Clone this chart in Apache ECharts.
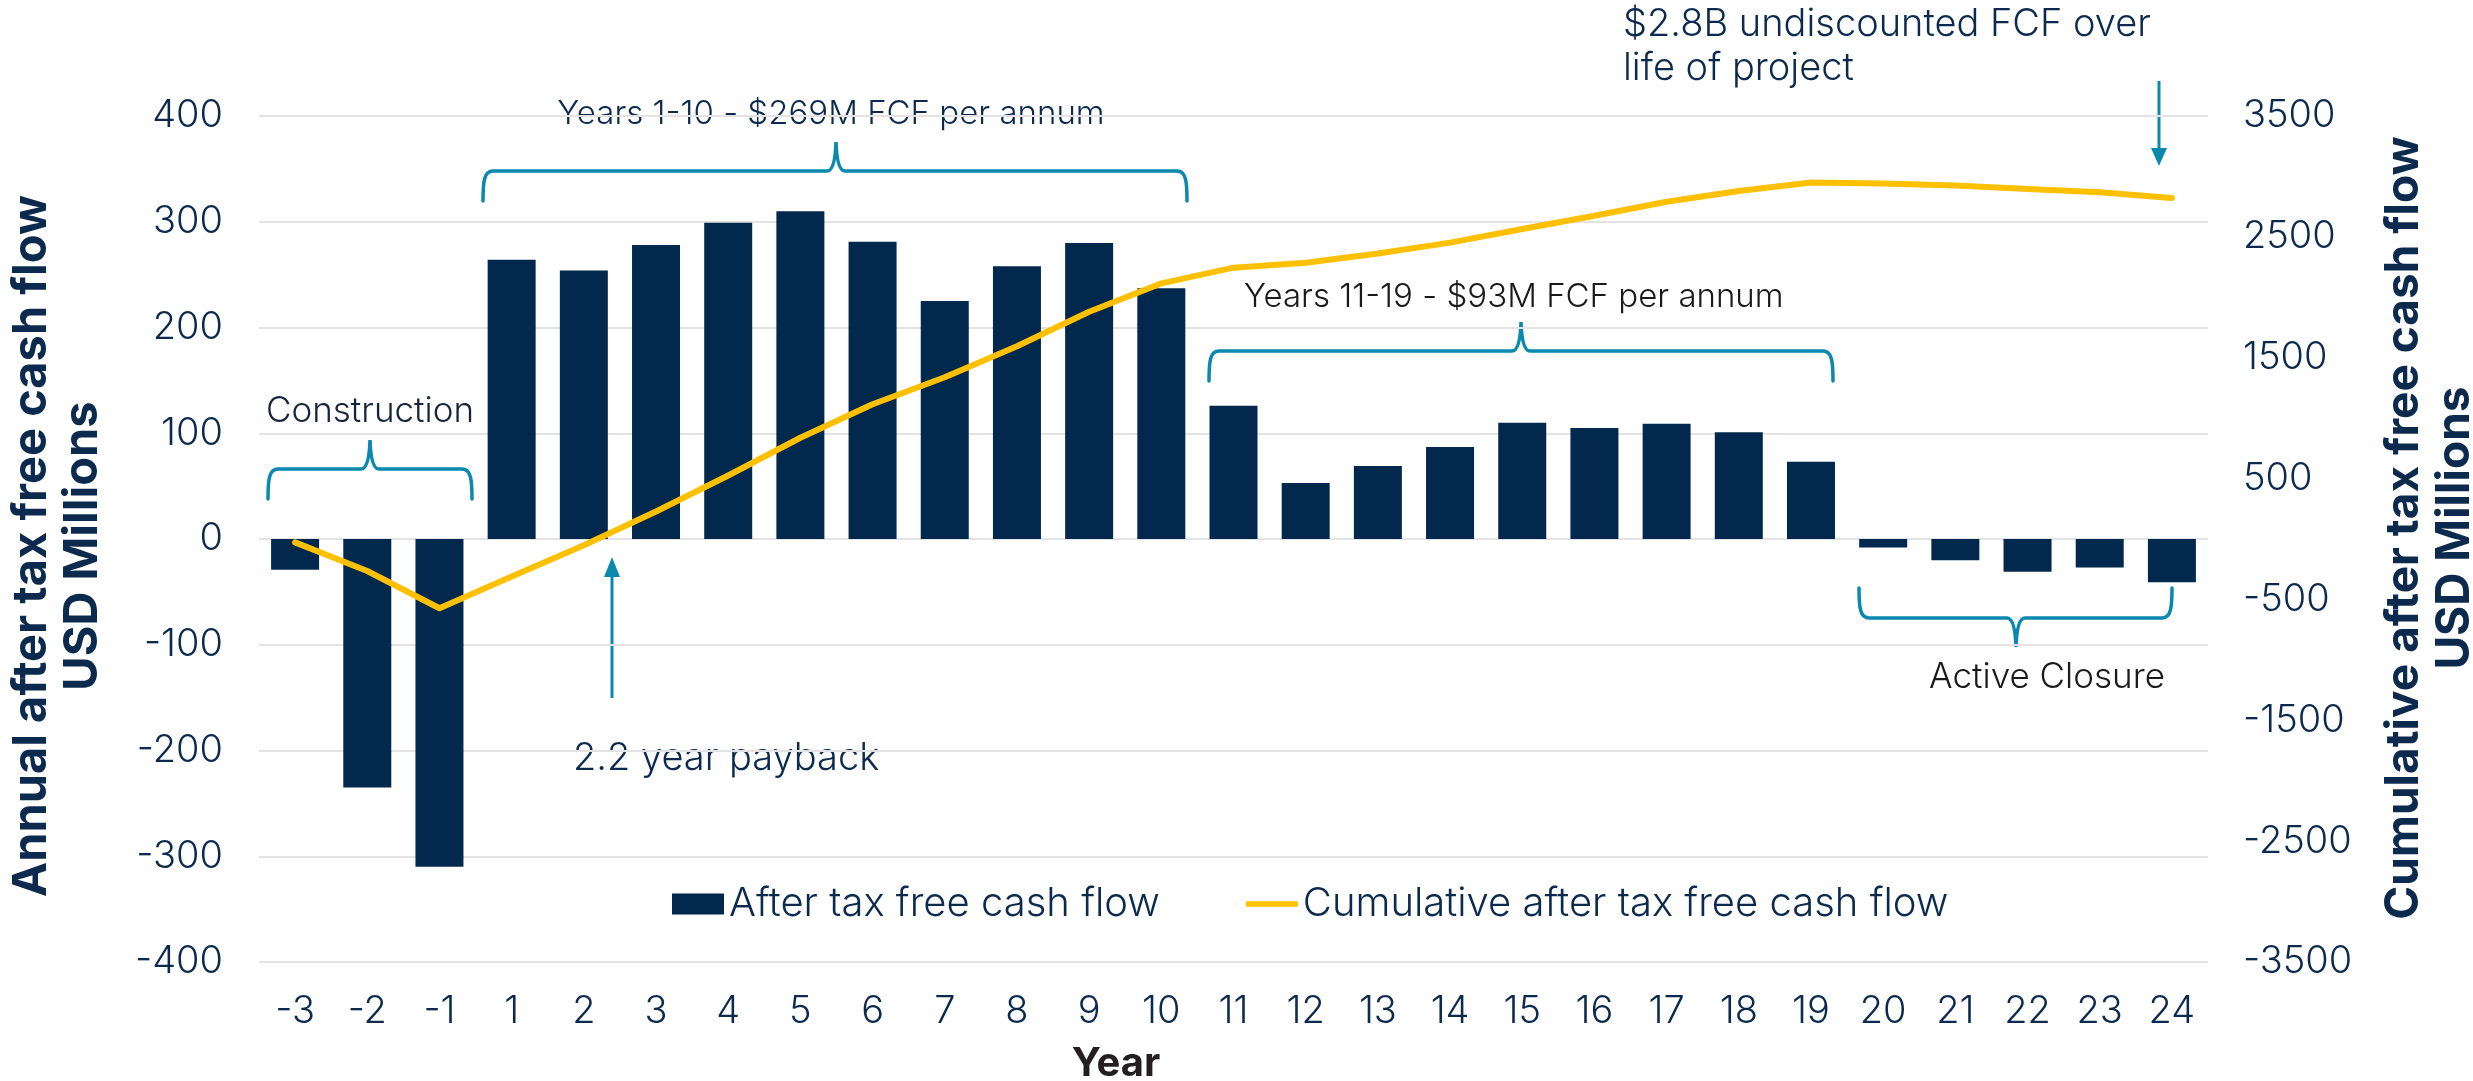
<!DOCTYPE html>
<html>
<head>
<meta charset="utf-8">
<script src="https://cdn.jsdelivr.net/npm/echarts@6/dist/echarts.min.js"></script>
<style>
  html, body { margin: 0; padding: 0; background: #fff; }
  #main { width: 2473px; height: 1081px; }
</style>
</head>
<body>
<div id="main"></div>
<script>
// chart values
var years = ['-3', '-2', '-1', '1', '2', '3', '4', '5', '6', '7', '8', '9', '10',
    '11', '12', '13', '14', '15', '16', '17', '18', '19', '20', '21', '22', '23', '24'];
var annualFCF = [-29, -235, -310, 264, 254, 278, 299, 310, 281, 225, 258, 280, 237,
    126, 53, 69, 87, 110, 105, 109, 101, 73, -8, -20, -31, -27, -41];
var cumulativeFCF = [-28, -265, -573, -310, -52, 228, 525, 838, 1115, 1338, 1595, 1880, 2115,
    2245, 2285, 2362, 2452, 2565, 2675, 2790, 2880, 2950, 2942, 2925, 2895, 2870, 2822];
var seriesNames = ['After tax free cash flow', 'Cumulative after tax free cash flow'];

var NAVY = '#03284d';
var GOLD = '#ffc000';
var TEAL = '#0a88ad';
var TEXT = '#0b2a4d';
var FONT = 'Inter, "Open Sans", sans-serif';

// curly brace shape: d = 1 -> tip up / ends down, d = -1 -> tip down / ends up
var Brace = echarts.graphic.extendShape({
    shape: {x1: 0, x2: 0, tipX: 0, y: 0, d: 1},
    buildPath: function (ctx, s) {
        var e = 30 * s.d, t = 29 * s.d, y = s.y;
        ctx.moveTo(s.x1, y + e);
        ctx.bezierCurveTo(s.x1, y + e * 0.35, s.x1 + 1, y, s.x1 + 10, y);
        ctx.lineTo(s.tipX - 9, y);
        ctx.quadraticCurveTo(s.tipX - 1, y, s.tipX, y - t);
        ctx.quadraticCurveTo(s.tipX + 1, y, s.tipX + 9, y);
        ctx.lineTo(s.x2 - 10, y);
        ctx.bezierCurveTo(s.x2 - 1, y, s.x2, y + e * 0.35, s.x2, y + e);
    }
});
echarts.graphic.registerShape('brace', Brace);

var chartDom = document.getElementById('main');
var chart = echarts.init(chartDom);

var brace = (x1, x2, tipX, y, d) => ({
    type: 'brace',
    shape: {x1: x1, x2: x2, tipX: tipX, y: y, d: d},
    style: {stroke: TEAL, lineWidth: 3.5, fill: null, lineCap: 'round'},
    silent: true
});

var arrow = (x, yTail, yTip, head) => {
    var dir = yTip > yTail ? 1 : -1;
    var base = yTip - dir * head;
    return [
        {type: 'line', shape: {x1: x, y1: yTail, x2: x, y2: base},
            style: {stroke: TEAL, lineWidth: 3}, silent: true},
        {type: 'polygon', shape: {points: [[x - 8, base], [x + 8, base], [x, yTip]]},
            style: {fill: TEAL}, silent: true}
    ];
};

var label = (text, x, y, size, align, color) => ({
    type: 'text',
    x: x, y: y,
    style: {
        text: text, fill: color || TEXT, font: '300 ' + size + 'px ' + FONT,
        textAlign: align || 'left', textVerticalAlign: 'middle'
    },
    silent: true
});

var graphics = [
    brace(268, 472, 370, 469, 1),
    brace(483, 1187, 836, 171, 1),
    brace(1209, 1833, 1521, 351, 1),
    brace(1859, 2172, 2016, 618, -1),
    label('Construction', 370, 411, 35, 'center', '#14243a'),
    label('Years 1-10 - $269M FCF per annum', 831, 114, 33, 'center'),
    label('Years 11-19 - $93M FCF per annum', 1244, 297, 33, 'left', '#1a1a1a'),
    label('2.2 year payback', 573, 759, 38, 'left'),
    label('Active Closure', 2047, 677, 35, 'center', '#1a1a1a'),
    label('$2.8B undiscounted FCF over', 1623, 25, 38, 'left'),
    label('life of project', 1623, 69, 38, 'left'),
    {
        type: 'text', x: 57, y: 546, rotation: Math.PI / 2,
        style: {text: 'Annual after tax free cash flow\nUSD Millions', font: 'bold 47px ' + FONT,
            fill: TEXT, textAlign: 'center', textVerticalAlign: 'middle', lineHeight: 51},
        silent: true
    },
    {
        type: 'text', x: 2430, y: 528, rotation: Math.PI / 2,
        style: {text: 'Cumulative after tax free cash flow\nUSD Millions', font: 'bold 46px ' + FONT,
            fill: TEXT, textAlign: 'center', textVerticalAlign: 'middle', lineHeight: 51},
        silent: true
    },
    {
        type: 'text', x: 1116, y: 1064,
        style: {text: 'Year', font: 'bold 40px ' + FONT, fill: '#231f20',
            textAlign: 'center', textVerticalAlign: 'middle'},
        silent: true
    }
].concat(arrow(612, 698, 557, 20), arrow(2159, 81, 166, 18));

var option = {
    animation: false,
    textStyle: {fontFamily: FONT},
    grid: {left: 259, right: 265, top: 116, bottom: 119},
    legend: {
        left: 672, top: 884, padding: 0,
        itemGap: 86, itemWidth: 52, itemHeight: 21,
        textStyle: {fontSize: 40, fontWeight: 300, color: TEXT, fontFamily: FONT},
        data: [
            {name: seriesNames[0], icon: 'rect'},
            {name: seriesNames[1], icon: 'path://M0,0 L55,0 L55,6 L0,6 Z'}
        ]
    },
    xAxis: {
        type: 'category',
        data: years,
        axisLine: {show: false, onZero: false},
        axisTick: {show: false},
        axisLabel: {fontSize: 38, fontWeight: 300, color: TEXT, margin: 31, fontFamily: FONT}
    },
    yAxis: [
        {
            type: 'value', min: -400, max: 400, interval: 100,
            axisLine: {show: false}, axisTick: {show: false},
            splitLine: {lineStyle: {color: '#e3e3e3', width: 2}},
            axisLabel: {fontSize: 38, fontWeight: 300, color: TEXT, margin: 36, fontFamily: FONT}
        },
        {
            type: 'value', min: -3500, max: 3500, interval: 1000,
            axisLine: {show: false}, axisTick: {show: false},
            splitLine: {show: false},
            axisLabel: {fontSize: 38, fontWeight: 300, color: TEXT, margin: 35, fontFamily: FONT,
                formatter: v => String(v)}
        }
    ],
    series: [
        {
            name: seriesNames[0],
            type: 'bar',
            data: annualFCF,
            barWidth: 48,
            itemStyle: {color: NAVY}
        },
        {
            name: seriesNames[1],
            type: 'line',
            yAxisIndex: 1,
            data: cumulativeFCF,
            symbol: 'none',
            itemStyle: {color: GOLD},
            lineStyle: {color: GOLD, width: 6, cap: 'round', join: 'round'},
            z: 5
        }
    ],
    graphic: graphics
};

chart.setOption(option);
</script>
</body>
</html>
